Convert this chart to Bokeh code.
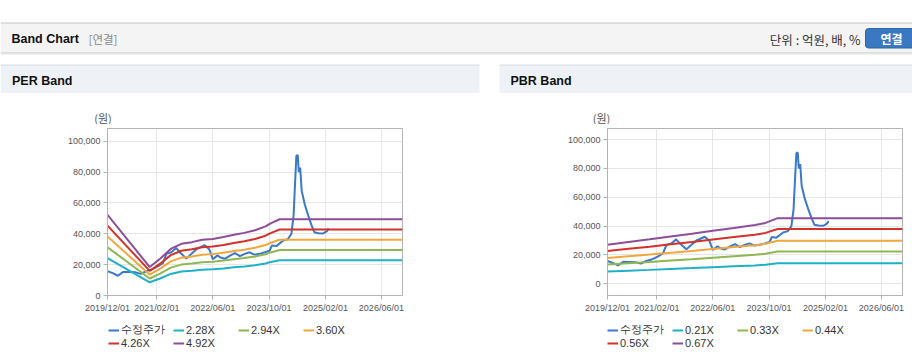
import pandas as pd
from bokeh.plotting import figure
from bokeh.layouts import column, row
from bokeh.models import (Range1d, FixedTicker, DatetimeTickFormatter, NumeralTickFormatter,
                          Legend, LegendItem, ColumnDataSource)
from bokeh.embed import file_html
from bokeh.resources import INLINE
from bokeh.core.properties import value

# ---------------- data ----------------
price_dates = ["2019-12-01","2020-01-15","2020-03-01","2020-04-15","2020-06-01","2020-08-01","2020-09-15",
               "2020-11-01","2020-12-15","2021-02-12","2021-03-25","2021-04-25","2021-06-06","2021-07-18",
               "2021-09-01","2021-10-15","2021-11-28","2022-01-10","2022-03-22","2022-05-01","2022-06-01",
               "2022-07-12","2022-08-01","2022-09-12","2022-10-28","2022-12-10","2023-01-22","2023-03-04",
               "2023-04-15","2023-05-28","2023-07-12","2023-08-25","2023-10-06","2023-10-25","2023-12-04",
               "2024-02-01","2024-03-12","2024-04-12","2024-05-01","2024-05-12","2024-05-25","2024-06-06",
               "2024-06-15","2024-06-27","2024-07-10","2024-08-06","2024-09-04","2024-10-04","2024-10-28",
               "2024-12-01","2025-01-12","2025-02-12","2025-03-01"]
price_values = [15800,14500,12800,15300,15200,15000,14000,15800,16800,19000,21000,27000,28000,30800,
                27000,24000,27000,30000,32600,30000,23500,26000,24800,23800,25900,27500,25500,27000,
                28000,26500,27000,28000,29000,32400,32000,35600,36500,40000,52000,70000,90500,91000,
                80000,83000,68000,59000,52000,45500,41000,40400,40200,41500,43500]

eps_dates = ["2019-12-01","2020-12-01","2021-03-01","2021-06-01","2021-09-01","2021-12-01","2022-03-01",
             "2022-06-01","2022-09-01","2022-12-01","2023-03-01","2023-06-01","2023-09-01","2023-10-15",
             "2024-01-01","2026-12-01"]
eps_values = [10630,3750,4840,6140,6810,7030,7340,7450,7700,8000,8250,8600,9100,9500,10050,10050]
per_multiples = [2.28, 2.94, 3.60, 4.26, 4.92]
per_labels = ["2.28X", "2.94X", "3.60X", "4.26X", "4.92X"]

bps_dates = ["2019-12-01","2020-06-01","2020-12-01","2021-06-01","2021-12-01","2022-06-01","2022-12-01",
             "2023-06-01","2023-09-01","2023-12-15","2026-12-01"]
bps_values = [40500,43300,46000,49000,51800,54800,57800,60800,63000,67900,67900]
pbr_multiples = [0.21, 0.33, 0.44, 0.56, 0.67]
pbr_labels = ["0.21X", "0.33X", "0.44X", "0.56X", "0.67X"]

price_label = "수정주가"
x_ticks = ["2019-12-01","2021-02-01","2022-06-01","2023-10-01","2025-02-01","2026-06-01"]
x_start, x_end = "2019-12-01", "2026-12-01"
y_ticks = [0, 20000, 40000, 60000, 80000, 100000]

# ---------------- styles ----------------
PRICE_COLOR = "#3a78c9"
BAND_COLORS = ["#1fb0c5", "#8fb650", "#f2a73c", "#d2322b", "#8d4d98"]
KR = value("Noto Sans CJK KR")
LAT = value("Liberation Sans")


def blank_fig(width, height, x0, x1, y0, y1):
    f = figure(width=width, height=height, x_range=Range1d(x0, x1), y_range=Range1d(y0, y1),
               output_backend="svg", toolbar_location=None, min_border=0,
               x_axis_location=None, y_axis_location=None)
    f.grid.visible = False
    f.outline_line_color = None
    f.background_fill_color = "white"
    f.border_fill_color = "white"
    return f


def series_sources(base_dates, base_values, mults):
    srcs = [ColumnDataSource(dict(x=pd.to_datetime(price_dates), y=price_values))]
    bx = pd.to_datetime(base_dates)
    for m in mults:
        srcs.append(ColumnDataSource(dict(x=bx, y=[v * m for v in base_values])))
    return srcs


def band_chart(width, bl, br, y0, y1, srcs):
    p = figure(width=width, height=196, x_axis_type="datetime",
               x_range=Range1d(pd.Timestamp(x_start), pd.Timestamp(x_end)),
               y_range=Range1d(y0, y1), output_backend="svg", toolbar_location=None,
               min_border_left=bl, min_border_right=br, min_border_top=4, min_border_bottom=25)
    p.outline_line_color = "#b4b4b4"
    p.background_fill_color = "white"
    p.border_fill_color = "white"

    for src, col in zip(srcs, [PRICE_COLOR] + BAND_COLORS):
        p.line("x", "y", source=src, line_color=col, line_width=2)

    p.xaxis.ticker = FixedTicker(ticks=[pd.Timestamp(t).value // 10**6 for t in x_ticks])
    fmt = "%Y/%m/%d"
    p.xaxis.formatter = DatetimeTickFormatter(milliseconds=fmt, seconds=fmt, minsec=fmt, minutes=fmt,
                                              hourmin=fmt, hours=fmt, days=fmt, months=fmt, years=fmt)
    p.yaxis.ticker = FixedTicker(ticks=y_ticks)
    p.yaxis.formatter = NumeralTickFormatter(format="0,0")
    for ax in (p.xaxis, p.yaxis):
        ax.axis_line_color = "#b4b4b4"
        ax.major_tick_line_color = "#b4b4b4"
        ax.major_tick_in = 0
        ax.major_tick_out = 4
        ax.minor_tick_line_color = None
        ax.major_label_text_font = "Liberation Sans"
        ax.major_label_text_font_size = "9px"
        ax.major_label_text_color = "#555555"
        ax.major_label_standoff = 3
    p.grid.grid_line_color = "#e6e6e6"
    p.grid.grid_line_width = 1
    return p


def legend_fig(width, x_off, srcs, labels):
    # legend-only panel; its range lies outside the data so only the legend shows
    f = blank_fig(width, 36, 0, 1, 0, 1)
    items = []
    for src, col, lab in zip(srcs, [PRICE_COLOR] + BAND_COLORS, [price_label] + labels):
        r = f.line("x", "y", source=src, line_color=col, line_width=2)
        items.append(LegendItem(label=lab, renderers=[r]))
    legend = Legend(items=items, location=(x_off, 7), orientation="horizontal", ncols=4,
                    glyph_width=11, glyph_height=12, label_height=12, label_width=52,
                    label_standoff=2, spacing=0, padding=0, margin=0,
                    border_line_color=None, background_fill_alpha=0,
                    label_text_font="Liberation Sans", label_text_font_size="11px",
                    label_text_color="#333333")
    f.add_layout(legend, "center")
    return f


# ---------------- header ----------------
hdr = blank_fig(912, 124, 0, 912, 124, 0)

hdr.quad(left=[0], right=[912], top=[22.5], bottom=[52.5], fill_color="#f4f4f4", line_color=None)
hdr.segment(x0=[0], x1=[912], y0=[22.5], y1=[22.5], line_color="#c4c4c4", line_width=1)
hdr.segment(x0=[0], x1=[912], y0=[52.5], y1=[52.5], line_color="#c8c8c8", line_width=1)
hdr.segment(x0=[0], x1=[912], y0=[53.5], y1=[53.5], line_color="#e4e4e4", line_width=1)
hdr.text(x=[11], y=[38.5], text=["Band Chart"], text_font=LAT, text_font_style="bold",
         text_font_size="12.5px", text_baseline="middle", text_color="#111111")
hdr.text(x=[88], y=[38.5], text=["[연결]"], text_font=KR, text_font_size="11.5px",
         text_baseline="middle", text_color="#8a8a8a")
hdr.text(x=[860], y=[38.5], text=["단위 : 억원, 배, %"], text_font=KR, text_font_size="12.5px",
         text_baseline="middle", text_align="right", text_color="#333333")
hdr.quad(left=[865], right=[918], top=[28], bottom=[47.5], fill_color="#3b78c2",
         line_color="#2d66a8", border_radius=3)
hdr.text(x=[891], y=[38], text=["연결"], text_font=KR, text_font_style="bold", text_font_size="12px",
         text_baseline="middle", text_align="center", text_color="white")

hdr.quad(left=[0, 499], right=[479, 912], top=[64.5, 64.5], bottom=[92.5, 92.5],
         fill_color="#eef2f7", line_color=None)
hdr.segment(x0=[0, 499], x1=[479, 912], y0=[64.5, 64.5], y1=[64.5, 64.5], line_color="#d6d9dd")
hdr.text(x=[11.5, 510], y=[80.5, 80.5], text=["PER Band", "PBR Band"], text_font=LAT,
         text_font_style="bold", text_font_size="12.5px", text_baseline="middle", text_color="#111111")
hdr.text(x=[102.5, 601], y=[117, 117], text=["(원)", "(원)"], text_font=KR, text_font_size="11px",
         text_baseline="middle", text_align="center", text_color="#555555")

# ---------------- charts ----------------
per_srcs = series_sources(eps_dates, eps_values, per_multiples)
pbr_srcs = series_sources(bps_dates, bps_values, pbr_multiples)

per = band_chart(489, 107, 87, 0, 108250, per_srcs)
pbr = band_chart(423, 118, 10, -8100, 107640, pbr_srcs)

per_leg = legend_fig(489, 108, per_srcs, per_labels)
pbr_leg = legend_fig(423, 118, pbr_srcs, pbr_labels)

# ---------------- footer line ----------------
ftr = blank_fig(912, 8, 0, 912, 364, 356)
ftr.segment(x0=[0, 499], x1=[479, 912], y0=[362.5, 362.5], y1=[362.5, 362.5], line_color="#cfcfcf")

page = column(hdr, row(per, pbr, spacing=0), row(per_leg, pbr_leg, spacing=0), ftr, spacing=0)
open("out.html", "w").write(file_html(page, INLINE))
